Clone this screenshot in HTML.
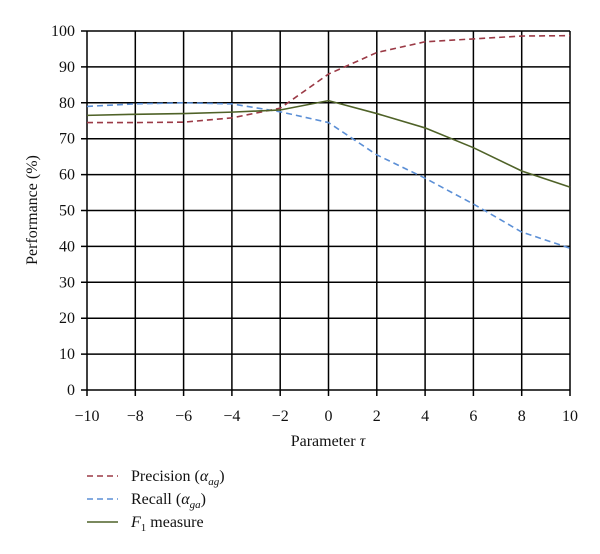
<!DOCTYPE html>
<html><head><meta charset="utf-8"><style>
html,body{margin:0;padding:0;background:#fff;}
svg{display:block;font-family:"Liberation Serif",serif;}
</style></head><body>
<svg id="chart" width="600" height="554" viewBox="0 0 600 554" xmlns="http://www.w3.org/2000/svg"></svg>
<script>
const xValues = [-10,-8,-6,-4,-2,0,2,4,6,8,10];
const precision = [74.5,74.5,74.6,75.8,78.5,88,94,97,97.8,98.6,98.7];
const recall = [79,79.7,80,79.7,77.5,74.5,65.5,59,51.8,44,39.5];
const f1 = [76.5,76.8,77,77.4,78,80.6,77,73,67.5,61,56.5];
const xTicks = [-10,-8,-6,-4,-2,0,2,4,6,8,10];
const yTicks = [0,10,20,30,40,50,60,70,80,90,100];

const NS="http://www.w3.org/2000/svg";
const svg=document.getElementById('chart');
const X0=87,X1=570,Y0=390,Y1=31;
const sx=v=>X0+(v+10)/20*(X1-X0);
const sy=v=>Y0-v/100*(Y0-Y1);
function mk(tag,attrs,parent){const e=document.createElementNS(NS,tag);for(const k in attrs)e.setAttribute(k,attrs[k]);(parent||svg).appendChild(e);return e;}

const grid=mk('g',{});


yTicks.forEach(t=>{
  mk('line',{x1:X0-6,x2:X1,y1:sy(t),y2:sy(t),stroke:'#000','stroke-width':1.5},grid);
  const tx=mk('text',{x:X0-12,y:sy(t)+5,'text-anchor':'end','font-size':16,fill:'#111'});
  tx.textContent=t;
  
  
});
xTicks.forEach(t=>{
  mk('line',{x1:sx(t),x2:sx(t),y1:Y1,y2:Y0+6,stroke:'#000','stroke-width':1.5},grid);
  const tx=mk('text',{x:sx(t),y:Y0+31,'text-anchor':'middle','font-size':16,fill:'#111'});
  tx.textContent=(t<0?'\u2212'+(-t):t);
  
  
});

function series(vals,color,dash,name){
  const p=mk('polyline',{points:vals.map((v,i)=>sx(xValues[i])+','+sy(v)).join(' '),fill:'none',stroke:color,'stroke-width':1.6,'stroke-dasharray':dash});
  
  
}
series(precision,'#9b3a46','6,4','precision-line');
series(recall,'#5b8fd6','6,4','recall-line');
series(f1,'#4f6228','none','f1-line');

const yl=mk('text',{x:0,y:0,transform:'translate(37,210) rotate(-90)','text-anchor':'middle','font-size':16,fill:'#111'});
yl.textContent='Performance (%)';


const xl=mk('text',{x:328,y:446,'text-anchor':'middle','font-size':16,fill:'#111'});
xl.innerHTML='Parameter <tspan font-style="italic">τ</tspan>';



const leg=[['#9b3a46','6,4','Precision (<tspan font-style="italic">α<tspan font-size="11" dy="4">ag</tspan></tspan><tspan dy="-4">)</tspan>','legend-precision'],
['#5b8fd6','6,4','Recall (<tspan font-style="italic">α<tspan font-size="11" dy="4">ga</tspan></tspan><tspan dy="-4">)</tspan>','legend-recall'],
['#4f6228','none','<tspan font-style="italic">F</tspan><tspan font-size="11" dy="4">1</tspan><tspan dy="-4"> measure</tspan>','legend-f1']];
leg.forEach((l,i)=>{
  const g=mk('g',{});
  
  
  const y=481+i*23;
  mk('line',{x1:87,x2:118,y1:y-5,y2:y-5,stroke:l[0],'stroke-width':1.6,'stroke-dasharray':l[1]},g);
  const t=mk('text',{x:131,y:y,'font-size':16,fill:'#111'},g);
  t.innerHTML=l[2];
});
</script>
</body></html>
